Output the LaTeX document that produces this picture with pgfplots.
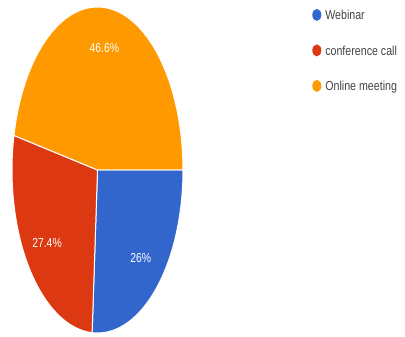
\documentclass[border=0pt]{standalone}
\usepackage{fontspec}
\setmainfont{Liberation Sans}
\newfontfamily\legfont[FakeStretch=0.82]{Liberation Sans}
\newfontfamily\labfont[FakeStretch=0.8]{Liberation Sans}
\usepackage{pgfplots}
\usepackage{pgfplotstable}
\pgfplotsset{compat=1.18}
\definecolor{gblue}{HTML}{3366CC}
\definecolor{gred}{HTML}{DC3912}
\definecolor{gorange}{HTML}{FF9900}
\definecolor{legtext}{HTML}{444444}
\pgfplotstableread{
label value
Webinar 26
conference 27.4
online 46.6
}\piedata
\begin{document}
\begin{tikzpicture}
\pgfplotstablegetelem{0}{value}\of\piedata \let\vA\pgfplotsretval
\pgfplotstablegetelem{1}{value}\of\piedata \let\vB\pgfplotsretval
\pgfplotstablegetelem{2}{value}\of\piedata \let\vC\pgfplotsretval
\pgfmathsetmacro\aA{-3.6*\vA}
\pgfmathsetmacro\aB{\aA-3.6*\vB}
\pgfmathsetmacro\aC{\aB-3.6*\vC}
\pgfmathsetmacro\mA{\aA/2}
\pgfmathsetmacro\mB{(\aA+\aB)/2}
\pgfmathsetmacro\mC{(\aB+\aC)/2}
\path[use as bounding box] (0,0) rectangle (405bp,337bp);
\begin{axis}[
  at={(12bp,4bp)}, anchor=south west,
  scale only axis, width=171bp, height=326bp,
  xmin=-1, xmax=1, ymin=-1, ymax=1,
  hide axis, clip=false,
  legend style={at={(1.755,0.997)}, anchor=north west, draw=none, fill=none,
    font=\legfont\fontsize{13bp}{14bp}\selectfont\color{legtext}, row sep=19bp,
    inner sep=0pt, nodes={text height=9.5bp, text depth=3bp},
    /tikz/every odd column/.append style={column sep=2bp}},
  legend cell align=left,
  legend image code/.code={\fill[#1, draw=none] (4.5bp,1.5bp) ellipse [x radius=4.5bp, y radius=6bp];},
]
\addplot[fill=gblue, draw=white, line width=1bp, domain=0:\aA, samples=80, smooth]
  ({cos(x)},{sin(x)}) -- (axis cs:0,0) -- cycle;
\addlegendentry{Webinar}
\addplot[fill=gred, draw=white, line width=1bp, domain=\aA:\aB, samples=80, smooth]
  ({cos(x)},{sin(x)}) -- (axis cs:0,0) -- cycle;
\addlegendentry{conference call}
\addplot[fill=gorange, draw=white, line width=1bp, domain=\aB:\aC, samples=120, smooth]
  ({cos(x)},{sin(x)}) -- (axis cs:0,0) -- cycle;
\addlegendentry{Online meeting}
\tikzset{plab/.style={text=white, font=\labfont\fontsize{13bp}{14bp}\selectfont}}
\node[plab] at (axis cs:{0.74*cos(\mA)},{0.74*sin(\mA)}) {26\%};
\node[plab] at (axis cs:{0.74*cos(\mB)},{0.74*sin(\mB)}) {27.4\%};
\node[plab] at (axis cs:{0.75*cos(\mC)},{0.75*sin(\mC)}) {46.6\%};
\end{axis}
\end{tikzpicture}
\end{document}
